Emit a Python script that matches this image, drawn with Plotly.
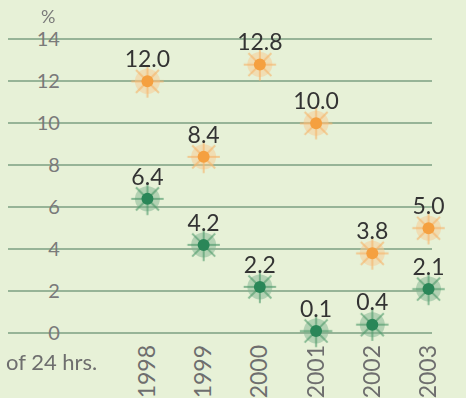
import plotly.graph_objects as go

# Share of the 24 hours, by year
years = [1998, 1999, 2000, 2001, 2002, 2003]
year_labels = ["1998", "1999", "2000", "2001", "2002", "2003"]
orange_values = [12.0, 8.4, 12.8, 10.0, 3.8, 5.0]
green_values = [6.4, 4.2, 2.2, 0.1, 0.4, 2.1]
y_ticks = [0, 2, 4, 6, 8, 10, 12, 14]

BG = "#e7f1d7"
GRID = "#97b497"
FONT = "Lato"

W, H = 466, 398


def splat(x, y, halo, ray, core, labels):
    """Layered markers that give a blotchy paint-spot look, with value labels."""
    return [
        go.Scatter(x=x, y=y, mode="markers", hoverinfo="skip", cliponaxis=False,
                   marker=dict(symbol="circle", size=25, color=halo, opacity=0.5,
                               line=dict(width=0))),
        go.Scatter(x=x, y=y, mode="markers", hoverinfo="skip", cliponaxis=False,
                   opacity=0.65,
                   marker=dict(symbol="asterisk-open", size=27, color=ray,
                               line=dict(width=2, color=ray))),
        go.Scatter(x=x, y=y, mode="markers+text", cliponaxis=False,
                   text=labels, textposition="top center",
                   textfont=dict(family=FONT, size=23, color="#333333"),
                   marker=dict(symbol="circle", size=12, color=core,
                               line=dict(width=0))),
    ]


fig = go.Figure()
for tr in splat(years, orange_values, "#f9c98f", "#f6b46a", "#f5a040",
                [f"{v:.1f}" for v in orange_values]):
    fig.add_trace(tr)
for tr in splat(years, green_values, "#7fb38f", "#4f9a6b", "#2a8658",
                [f"{v:.1f}" for v in green_values]):
    fig.add_trace(tr)

# pixel geometry of the plotting area
px_per_year = 57.2
x_left_px, x_right_px = 8, 440
x0 = 1998 - (150 - x_left_px) / px_per_year
x1 = 1998 + (x_right_px - 150) / px_per_year

px_per_unit = (337 - 38) / 14
y_lo, y_hi = -0.3, 14.5
top_px = 38 - (y_hi - 14) * px_per_unit
bot_px = 337 - y_lo * px_per_unit

fig.update_layout(
    width=W, height=H,
    margin=dict(l=0, r=0, t=0, b=0),
    paper_bgcolor=BG, plot_bgcolor=BG,
    showlegend=False,
    font=dict(family=FONT, color="#6e6e6e"),
    xaxis=dict(
        domain=[x_left_px / W, x_right_px / W],
        range=[x0, x1],
        tickmode="array", tickvals=years, ticktext=year_labels,
        tickangle=-90, tickfont=dict(family=FONT, size=23, color="#6e6e6e"),
        showgrid=False, zeroline=False, showline=False, ticks="",
    ),
    yaxis=dict(
        domain=[(H - bot_px) / H, (H - top_px) / H],
        range=[y_lo, y_hi],
        anchor="free", position=61 / W,
        tickmode="array", tickvals=y_ticks,
        tickfont=dict(family=FONT, size=20, color="#7a7a7a"),
        showgrid=True, gridcolor=GRID, gridwidth=2,
        zeroline=False, showline=False, ticks="",
    ),
    annotations=[
        dict(text="%", x=49 / W, y=1 - 14 / H, xref="paper", yref="paper",
             showarrow=False, xanchor="center", yanchor="middle",
             font=dict(family=FONT, size=18, color="#7a7a7a")),
        dict(text="of 24 hrs.", x=4 / W, y=1 - 366 / H, xref="paper", yref="paper",
             showarrow=False, xanchor="left", yanchor="middle",
             font=dict(family=FONT, size=22, color="#6e6e6e")),
    ],
)

fig.write_html("out.html")
